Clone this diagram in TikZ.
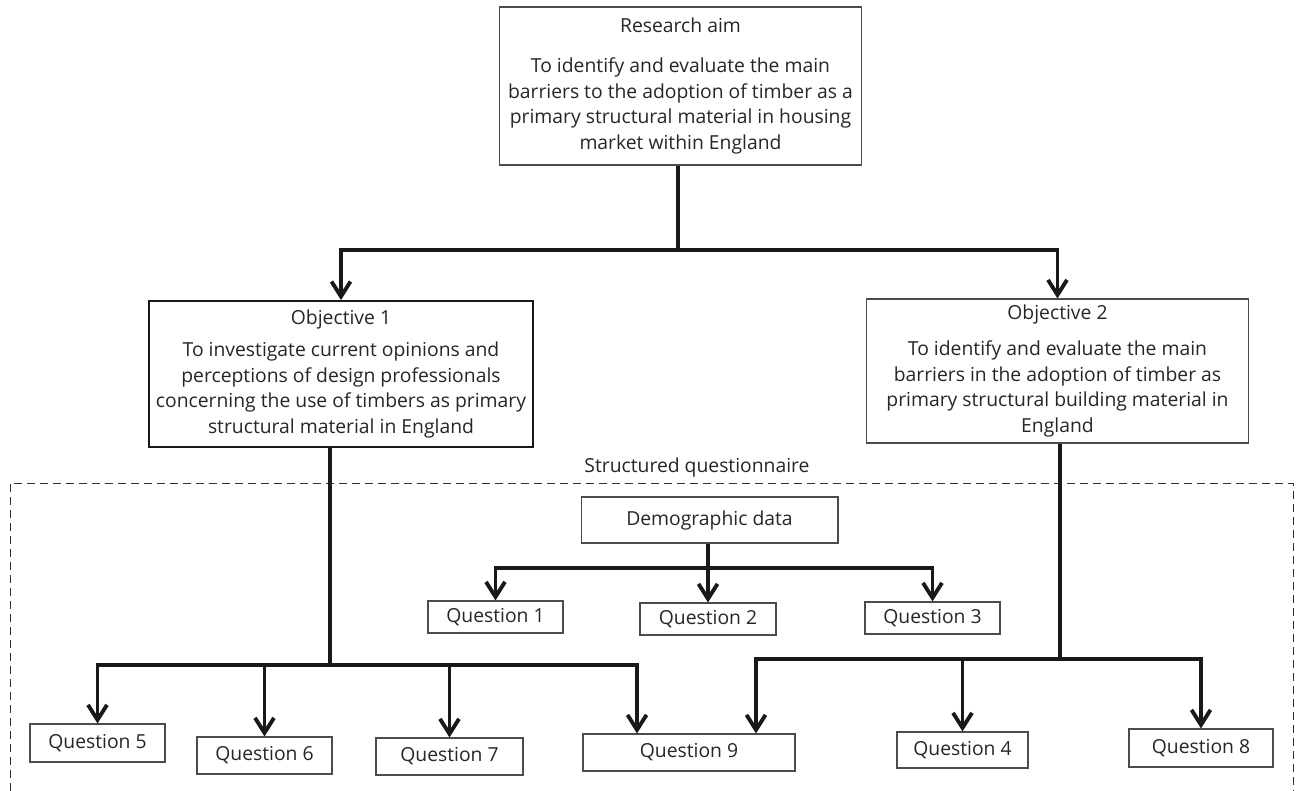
\documentclass[tikz,border=0pt]{standalone}
\usepackage{fontspec}
\setmainfont{Open Sans}
\usetikzlibrary{calc,arrows.meta}
\newcommand{\tikzQuestionNode}[5]{
  \node[qbox,minimum width=#3,minimum height=#4] (#1) at (#2) {#5};
}

\begin{document}
\begin{tikzpicture}[x=0.02cm,y=-0.02cm,
  qbox/.style={draw=black!70,line width=0.6pt,rectangle,inner sep=0pt,fill=white,
    text=black!85,font=\fontsize{11}{14.6}\selectfont},
  bigbox/.style={qbox,align=center},
  bus/.style={line width=2.2pt,draw=black!90},
  arr/.style={bus,-{Straight Barb[length=0.3cm,width=0.38cm]}}]

  \useasboundingbox (0,0) rectangle (1296,791);

  % research aim and the two objectives
  \node[bigbox,minimum width=7.26cm,minimum height=3.16cm] (aim) at (680.5,86)
    {Research aim\\[0.28cm]To identify and evaluate the main\\barriers to the adoption of timber as a\\primary structural material in housing\\market within England};
  \node[bigbox,draw=black!90,line width=1pt,minimum width=7.68cm,minimum height=2.92cm] (obj1) at (341,374)
    {Objective 1\\[0.12cm]To investigate current opinions and\\perceptions of design professionals\\concerning the use of timbers as primary\\structural material in England};
  \node[bigbox,minimum width=7.66cm,minimum height=2.88cm] (obj2) at (1057.5,371)
    {Objective 2\\[0.2cm]To identify and evaluate the main\\barriers in the adoption of timber as\\primary structural building material in\\England};

  \coordinate (aimbus) at (678,250);
  \draw[bus] (aim.south -| aimbus) -- (aimbus);
  \draw[arr] (aimbus) -| (obj1.north);
  \draw[arr] (aimbus) -| (obj2.north);

  % questionnaire frame
  \draw[black!80,line width=0.5pt,dash pattern=on 0.16cm off 0.1cm] (10,791) |- (1293,483) -- (1293,791);
  \node[text=black!85,font=\fontsize{11}{14.6}\selectfont] (sq) at (697,467) {Structured questionnaire};

  \tikzQuestionNode{demo}{709.5,520}{5.14cm}{0.92cm}{Demographic data}
  \tikzQuestionNode{q1}{495.5,617}{2.7cm}{0.64cm}{Question 1}
  \tikzQuestionNode{q2}{708,619}{2.72cm}{0.64cm}{Question 2}
  \tikzQuestionNode{q3}{932.5,618}{2.7cm}{0.64cm}{Question 3}

  \tikzQuestionNode{q5}{97.5,743}{2.7cm}{0.76cm}{Question 5}
  \tikzQuestionNode{q6}{264.5,755.5}{2.7cm}{0.74cm}{Question 6}
  \tikzQuestionNode{q7}{449.5,756.5}{2.94cm}{0.74cm}{Question 7}
  \tikzQuestionNode{q9}{689,752.5}{4.24cm}{0.74cm}{Question 9}
  \tikzQuestionNode{q4}{962.5,750}{2.62cm}{0.72cm}{Question 4}
  \tikzQuestionNode{q8}{1201,748}{2.88cm}{0.76cm}{Question 8}

  % demographic data
  \coordinate (dbus) at (708,568);
  \draw[arr] (demo.south -| q2.north) -- (q2.north);
  \draw[arr] (dbus) -| (q1.north);
  \draw[arr] (dbus) -| (q3.north);

  % objective 1
  \coordinate (o1bus) at (330,665);
  \draw[bus] (obj1.south -| o1bus) -- (o1bus);
  \draw[arr] (o1bus) -| (q5.north);
  \draw[arr] (o1bus) -| (q6.north);
  \draw[arr] (o1bus) -| (q7.north);
  \draw[arr] (o1bus) -| ($(q9.north)+(-52,0)$);

  % objective 2
  \coordinate (o2bus) at (1060,659);
  \draw[bus] (obj2.south -| o2bus) -- (o2bus);
  \draw[arr] (o2bus) -| ($(q9.north)+(67,0)$);
  \draw[arr] (o2bus) -| (q4.north);
  \draw[arr] (o2bus) -| (q8.north);

\end{tikzpicture}
\end{document}
